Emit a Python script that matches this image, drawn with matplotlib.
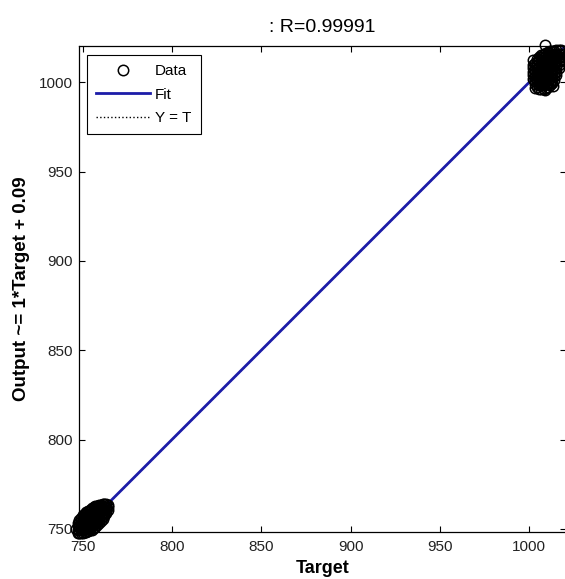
import matplotlib.pyplot as plt

plt.rcParams['font.family'] = ['Liberation Sans', 'DejaVu Sans']

# regression result
r_value = 0.99991
slope = 1
offset = 0.09

# lower cluster: one target per row, outputs observed for that target
low_targets = [746, 747, 748, 749, 750, 751, 752, 753, 754, 755,
               756, 757, 758, 759, 760, 761, 762, 763, 764]
low_outputs = [
    [749.9],
    [747.8, 749.6, 751.4, 753.0],
    [747.6, 749.4, 751.2, 753.0, 754.8],
    [747.6, 749.3, 751.0, 752.7, 754.4, 756.2],
    [747.7, 749.5, 751.3, 753.1, 754.9, 756.7, 757.6],
    [748.0, 749.7, 751.4, 753.1, 754.8, 756.5, 758.2],
    [748.2, 749.9, 751.6, 753.3, 755.0, 756.7, 758.5, 759.2],
    [748.6, 750.4, 752.2, 754.0, 755.8, 757.6, 759.4, 760.0],
    [749.1, 750.9, 752.7, 754.5, 756.3, 758.1, 759.9, 760.8],
    [749.6, 751.4, 753.2, 755.0, 756.8, 758.6, 760.4, 761.4],
    [750.4, 752.2, 754.0, 755.8, 757.6, 759.4, 761.2, 762.0],
    [751.2, 753.0, 754.8, 756.6, 758.4, 760.2, 762.0, 762.6],
    [752.2, 754.0, 755.8, 757.6, 759.4, 761.2, 763.0],
    [753.2, 755.0, 756.8, 758.6, 760.4, 762.2, 763.4],
    [754.4, 756.2, 758.0, 759.8, 761.6, 763.4],
    [755.6, 757.4, 759.2, 761.0, 762.8, 763.8],
    [757.0, 758.8, 760.6, 762.4, 763.9],
    [758.6, 760.4, 762.2, 763.8],
    [760.4, 762.0, 763.4],
]

# upper cluster
high_targets = [1002.0, 1003.2, 1004.4, 1005.6, 1006.8, 1008.0, 1009.2, 1010.4,
                1011.6, 1012.8, 1014.0, 1015.2, 1016.4, 1017.6]
high_outputs = [
    [1002, 1004, 1006, 1008, 1010],
    [999, 1001, 1003, 1005, 1007, 1009, 1011],
    [997.5, 999.5, 1001.5, 1003.5, 1005.5, 1007.5, 1009.5, 1011.5, 1013],
    [996.5, 998.5, 1000.5, 1002.5, 1004.5, 1006.5, 1008.5, 1010.5, 1012.5, 1014.5],
    [996.5, 998.5, 1000.5, 1002.5, 1004.5, 1006.5, 1008.5, 1010.5, 1012.5, 1014.5, 1015.5],
    [996.5, 998.5, 1000.5, 1002.5, 1004.5, 1006.5, 1008.5, 1010.5, 1012.5, 1014.5, 1016],
    [997, 999, 1001, 1003, 1005, 1007, 1009, 1011, 1013, 1015, 1016.5],
    [997.5, 999.5, 1001.5, 1003.5, 1005.5, 1007.5, 1009.5, 1011.5, 1013.5, 1015.5, 1017],
    [998.5, 1000.5, 1002.5, 1004.5, 1006.5, 1008.5, 1010.5, 1012.5, 1014.5, 1016.5, 1017.5],
    [999.5, 1001.5, 1003.5, 1005.5, 1007.5, 1009.5, 1011.5, 1013.5, 1015.5, 1017.5],
    [1001.5, 1003.5, 1005.5, 1007.5, 1009.5, 1011.5, 1013.5, 1015.5, 1017.5],
    [1004, 1006, 1008, 1010, 1012, 1014, 1016, 1018],
    [1008, 1010, 1012, 1014, 1016, 1018],
    [1012, 1014, 1016, 1018],
]

# stray points around the upper cluster
outlier_targets = [1008.8, 1002.2, 1011.7, 1008.9, 1003.3, 1013.5]
outlier_outputs = [1021.0, 1012.5, 999.6, 995.7, 996.8, 998.0]

tick_vals = [750, 800, 850, 900, 950, 1000]

target = []
output = []
for tg, outs in list(zip(low_targets, low_outputs)) + list(zip(high_targets, high_outputs)):
    for o in outs:
        target.append(tg)
        output.append(o)
target += outlier_targets
output += outlier_outputs

lo, hi = 748.0, 1020.4

fig = plt.figure(figsize=(5.65, 5.79), dpi=100)
ax = fig.add_axes([79 / 565, 1 - 532 / 579, 487 / 565, 486 / 579])

ax.plot([lo, hi], [lo, hi], ':', color='k', lw=1, label='Y = T')
ax.plot([lo, hi], [slope * lo + offset, slope * hi + offset], color='#1c1ca8', lw=2, label='Fit')
ax.plot(target, output, 'o', mfc='none', mec='k', ms=7.5, mew=1.1, clip_on=False, label='Data')

ax.set_xlim(747.8, 1020.6)
ax.set_ylim(748.2, 1020.4)
ax.set_xticks(tick_vals)
ax.set_yticks(tick_vals)
ax.tick_params(direction='in', length=4.5, width=0.8, top=True, right=True,
               labelsize=11, pad=4.5, colors='k', labelcolor='#222222')
ax.tick_params(axis='x', pad=5.5)
for s in ax.spines.values():
    s.set_linewidth(0.9)

ax.set_title(f': R={r_value}', fontsize=14, pad=10)
ax.set_xlabel('Target', fontsize=13, fontweight='bold', labelpad=4.5)
ax.set_ylabel(f'Output ~= {slope}*Target + {offset}', fontsize=13.5, fontweight='bold', labelpad=6)

h, l = ax.get_legend_handles_labels()
leg = ax.legend(h[::-1], l[::-1], loc='upper left', bbox_to_anchor=(8 / 487, 1 - 9 / 486),
                borderaxespad=0, fontsize=11, fancybox=False, framealpha=1, edgecolor='k',
                handlelength=3.5, labelspacing=0.62, handletextpad=0.35, borderpad=0.6)
leg.get_frame().set_linewidth(0.8)

fig.savefig('out.png', dpi=100)
